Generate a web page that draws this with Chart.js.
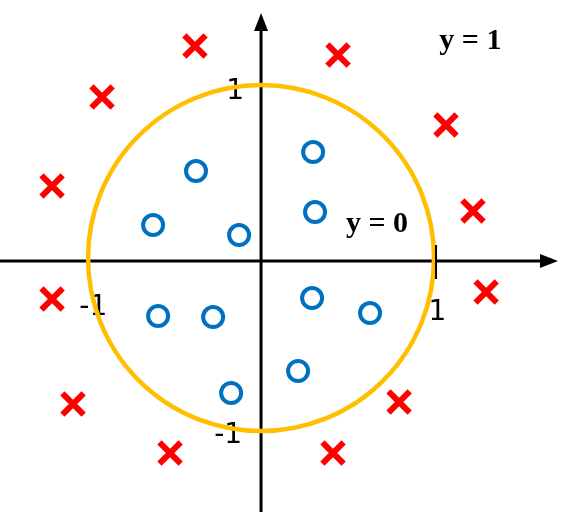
<!DOCTYPE html>
<html>
<head>
<meta charset="utf-8">
<script src="https://cdn.jsdelivr.net/npm/chart.js@4.4.1/dist/chart.umd.min.js"></script>
<style>
  html, body { margin: 0; padding: 0; background: #fff; }
  canvas { display: block; }
</style>
</head>
<body>
<canvas id="chart" width="574" height="512"></canvas>
<script>
// class y = 0 (inside the unit circle)
const circleX = [-0.376, -0.624, -0.127, 0.301, 0.312, -0.595, -0.277, 0.295, 0.630, 0.214, -0.173];
const circleY = [0.520, 0.208, 0.150, 0.630, 0.283, -0.318, -0.324, -0.214, -0.301, -0.636, -0.763];

// class y = 1 (outside)
const crossX = [-0.382, 0.445, -0.919, 1.069, -1.208, 1.225, -1.208, 1.301, -1.087, 0.798, -0.526, 0.416];
const crossY = [1.243, 1.191, 0.948, 0.786, 0.434, 0.289, -0.220, -0.179, -0.827, -0.815, -1.110, -1.110];

// axis tick labels: [x, y, text]
const tickLabels = [
    [-0.15, 0.98, '1'],
    [-0.97, -0.27, '-1'],
    [1.02, -0.30, '1'],
    [-0.19, -1.01, '-1']
];
const boundary = { cx: 0, cy: 0.017, r: 1 };

function toPoints(xs, ys) {
    return xs.map((x, i) => ({ x: x, y: ys[i] }));
}

// axes, labels and decision boundary drawn under the points
const decorPlugin = {
    id: 'decor',
    beforeDatasetsDraw(chart) {
        const ctx = chart.ctx;
        const xs = chart.scales.x, ys = chart.scales.y;
        const ox = xs.getPixelForValue(0), oy = ys.getPixelForValue(0);
        const W = chart.width, H = chart.height;
        ctx.save();

        // axes
        ctx.strokeStyle = '#000';
        ctx.fillStyle = '#000';
        ctx.lineWidth = 3;
        ctx.beginPath();
        ctx.moveTo(0, oy); ctx.lineTo(W - 26, oy);
        ctx.moveTo(ox, H); ctx.lineTo(ox, 26);
        ctx.stroke();
        // arrow heads
        ctx.beginPath();
        ctx.moveTo(W - 16, oy); ctx.lineTo(W - 34, oy - 7); ctx.lineTo(W - 34, oy + 7); ctx.closePath();
        ctx.fill();
        ctx.beginPath();
        ctx.moveTo(ox, 13); ctx.lineTo(ox - 7, 31); ctx.lineTo(ox + 7, 31); ctx.closePath();
        ctx.fill();

        // tick labels
        ctx.font = '28px "DejaVu Sans", sans-serif';
        ctx.textAlign = 'center';
        ctx.textBaseline = 'middle';
        tickLabels.forEach(t => {
            ctx.fillText(t[2], xs.getPixelForValue(t[0]), ys.getPixelForValue(t[1]));
        });

        // class labels
        ctx.font = 'bold 30px "Liberation Serif", serif';
        ctx.fillText('y = 1', xs.getPixelForValue(1.21), ys.getPixelForValue(1.27));
        ctx.fillText('y = 0', xs.getPixelForValue(0.67), ys.getPixelForValue(0.215));

        // decision boundary
        const cx = xs.getPixelForValue(boundary.cx), cy = ys.getPixelForValue(boundary.cy);
        const rx = xs.getPixelForValue(boundary.r) - ox;
        const ry = oy - ys.getPixelForValue(boundary.r);
        ctx.strokeStyle = '#ffbf00';
        ctx.lineWidth = 4.5;
        ctx.beginPath();
        ctx.ellipse(cx, cy, rx, ry, 0, 0, Math.PI * 2);
        ctx.stroke();

        // tick mark at x = 1
        const t1 = xs.getPixelForValue(1) + 2;
        ctx.strokeStyle = '#000';
        ctx.lineWidth = 2;
        ctx.beginPath();
        ctx.moveTo(t1, oy - 16); ctx.lineTo(t1, oy + 18);
        ctx.stroke();
        ctx.restore();
    }
};

new Chart(document.getElementById('chart').getContext('2d'), {
    type: 'scatter',
    data: {
        datasets: [{
            label: 'y = 1',
            data: toPoints(crossX, crossY),
            pointStyle: 'crossRot',
            pointRadius: 15,
            borderWidth: 6,
            borderColor: '#ff0000',
            backgroundColor: '#ff0000'
        }, {
            label: 'y = 0',
            data: toPoints(circleX, circleY),
            pointStyle: 'circle',
            pointRadius: 10,
            borderWidth: 4,
            borderColor: '#0070c0',
            backgroundColor: '#ffffff'
        }]
    },
    options: {
        responsive: false,
        animation: false,
        layout: { padding: 0, autoPadding: false },
        plugins: {
            legend: { display: false },
            tooltip: { enabled: false }
        },
        scales: {
            x: { type: 'linear', min: -1.509, max: 1.809, display: false },
            y: { type: 'linear', min: -1.451, max: 1.509, display: false }
        }
    },
    plugins: [decorPlugin]
});
</script>
</body>
</html>
